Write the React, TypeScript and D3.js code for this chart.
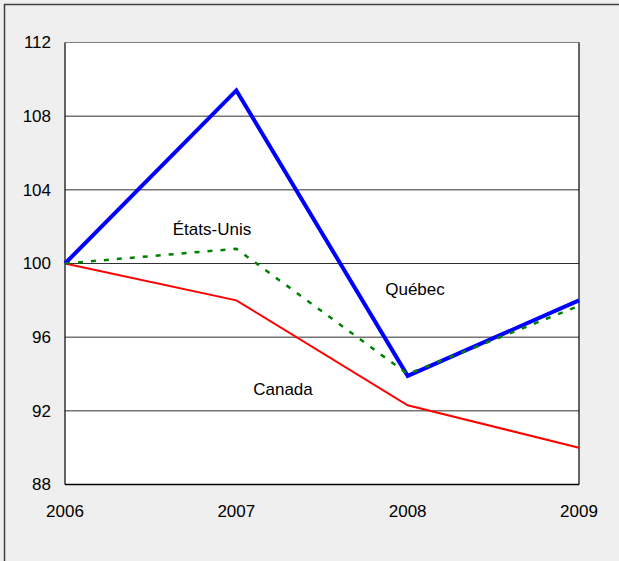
import React from "react";
import * as d3 from "d3";

const years = [2006, 2007, 2008, 2009];
const quebec = [100, 109.4, 93.9, 98.0];
const etatsUnis = [100, 100.8, 94.0, 97.7];
const canada = [100, 98.0, 92.3, 90.0];
const yTicks = [88, 92, 96, 100, 104, 108, 112];

const W = 619, H = 561;
const L = 65, R = 579, T = 42.5, B = 484.5;

export default function App() {
  const x = d3.scalePoint<number>().domain(years).range([L, R]);
  const y = d3.scaleLinear().domain([88, 112]).range([B, T]);
  const line = d3.line<number>().x((_, i) => x(years[i])!).y((d) => y(d));
  const font = "Arial, 'Liberation Sans', sans-serif";
  const fs = 17;
  return (
    <svg width={W} height={H} style={{ position: "absolute", left: 0, top: 0 }}>
      <rect x={0} y={0} width={W} height={H} fill="#efefef" />
      <rect x={4.5} y={4.5} width={W + 10} height={H + 10} fill="none" stroke="#404040" strokeWidth={1.5} />
      <rect x={L} y={T} width={R - L} height={B - T} fill="#ffffff" />
      {yTicks.map((t) => (
        <line key={t} x1={L} x2={R} y1={y(t)} y2={y(t)} stroke={t === 112 ? "#808080" : "#303030"} strokeWidth={1} />
      ))}
      <line x1={L} x2={L} y1={T} y2={B} stroke="#000" strokeWidth={1.2} />
      <line x1={R} x2={R} y1={T} y2={B} stroke="#000" strokeWidth={1.2} />
      <line x1={L} x2={R} y1={B} y2={B} stroke="#000" strokeWidth={1.5} />
      {yTicks.map((t) => (
        <text key={t} x={51} y={y(t)} dy="0.35em" textAnchor="end" fontFamily={font} fontSize={fs} fill="#000">
          {t}
        </text>
      ))}
      {years.map((yr) => (
        <text key={yr} x={x(yr)!} y={511} dy="0.35em" textAnchor="middle" fontFamily={font} fontSize={fs} fill="#000">
          {yr}
        </text>
      ))}
      <path d={line(canada)!} fill="none" stroke="#ff0000" strokeWidth={2} />
      <path d={line(quebec)!} fill="none" stroke="#0000ff" strokeWidth={4} />
      <path d={line(etatsUnis)!} fill="none" stroke="#008000" strokeWidth={2.5} strokeDasharray="5,8" />
      <text x={212} y={229} dy="0.35em" textAnchor="middle" fontFamily={font} fontSize={fs}>États-Unis</text>
      <text x={415} y={289} dy="0.35em" textAnchor="middle" fontFamily={font} fontSize={fs}>Québec</text>
      <text x={283} y={389} dy="0.35em" textAnchor="middle" fontFamily={font} fontSize={fs}>Canada</text>
    </svg>
  );
}
